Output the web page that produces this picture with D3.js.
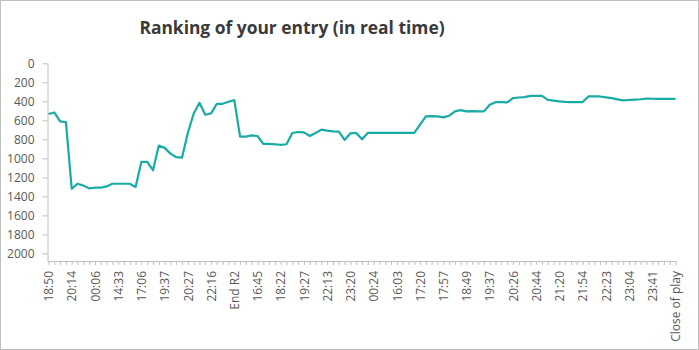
<!DOCTYPE html>
<html>
<head>
<meta charset="utf-8">
<script src="https://cdn.jsdelivr.net/npm/d3@7"></script>
<style>
  html, body { margin: 0; padding: 0; background: #fff; }
  svg { display: block; }
</style>
</head>
<body>
<svg id="chart" width="699" height="350"></svg>
<script>
// ---- data ----
const title = "Ranking of your entry (in real time)";
const tickLabels = ["18:50","20:14","00:06","14:33","17:06","19:37","20:27","22:16","End R2","16:45","18:22","19:27","22:13","23:20","00:24","16:03","17:20","17:57","18:49","19:37","20:26","20:44","21:20","21:54","22:23","23:04","23:41","Close of play"];
const labelEvery = 4;
const ranks = [
  534, 517, 611, 618, 1320, 1267, 1285, 1316, 1309, 1309,
  1295, 1267, 1267, 1267, 1267, 1302, 1037, 1037, 1125, 866,
  890, 950, 988, 992, 733, 531, 416, 541, 527, 426,
  426, 405, 388, 772, 772, 758, 765, 848, 848, 852,
  859, 852, 733, 723, 726, 765, 733, 698, 709, 716,
  719, 806, 737, 733, 800, 733, 733, 733, 733, 733,
  733, 733, 733, 733, 646, 559, 555, 559, 569, 552,
  506, 492, 506, 503, 506, 506, 437, 409, 409, 412,
  367, 360, 356, 342, 342, 342, 385, 392, 400, 405,
  408, 408, 408, 349, 349, 349, 358, 366, 380, 390,
  386, 382, 378, 371, 373, 374, 374, 374, 374
];
const yTicks = [0, 200, 400, 600, 800, 1000, 1200, 1400, 1600, 1800, 2000];
const yAxisMax = 2080;

// ---- chart ----
const svg = d3.select("#chart");
const W = 699, H = 350;
const font = "'Open Sans', 'Noto Sans', sans-serif";
const axisColor = "#bfbfbf";
const textColor = "#595959";

svg.append("rect").attr("x", 0.5).attr("y", 0.5).attr("width", W - 1).attr("height", H - 1)
  .attr("fill", "#fff").attr("stroke", "#bfbfbf");

const idx = d3.range(ranks.length);
const x = d3.scalePoint().domain(idx).range([48.5, 675.5]);
const y = d3.scaleLinear().domain([0, yAxisMax]).range([63.3, 261]);

// title
svg.append("text")
  .attr("x", 292).attr("y", 34)
  .attr("text-anchor", "middle")
  .attr("font-family", font).attr("font-weight", "bold").attr("font-size", 17.4)
  .attr("fill", "#3a3a3a")
  .text(title);

// y axis
const yAxis = d3.axisLeft(y).tickValues(yTicks).tickSize(5).tickPadding(8).tickFormat(d3.format("d"));
const gy = svg.append("g").attr("transform", "translate(47.5,0)").call(yAxis);
gy.select(".domain").attr("stroke", axisColor).attr("d", `M0.5,${y(0)}V261`);
gy.selectAll(".tick line").attr("stroke", axisColor);
gy.selectAll(".tick text").attr("font-family", font).attr("font-size", 12).attr("fill", textColor);

// x axis
const xAxis = d3.axisBottom(x).tickSize(4).tickPadding(4)
  .tickFormat(i => (i % labelEvery === 0) ? tickLabels[i / labelEvery] : "");
const gx = svg.append("g").attr("transform", "translate(0,261)").call(xAxis);
gx.select(".domain").attr("stroke", axisColor).attr("d", "M47.5,0.5H676.5");
gx.selectAll(".tick line").attr("stroke", axisColor);
gx.selectAll(".tick text")
  .attr("font-family", font).attr("font-size", 12).attr("fill", textColor)
  .attr("transform", "rotate(-90)")
  .attr("text-anchor", "end")
  .attr("x", -10).attr("y", 0).attr("dy", "0.35em");

// line
const line = d3.line().x((d, i) => x(i)).y(d => y(d));
svg.append("path")
  .datum(ranks)
  .attr("fill", "none")
  .attr("stroke", "#17aca6")
  .attr("stroke-width", 2.2)
  .attr("stroke-linejoin", "round")
  .attr("d", line);
</script>
</body>
</html>
